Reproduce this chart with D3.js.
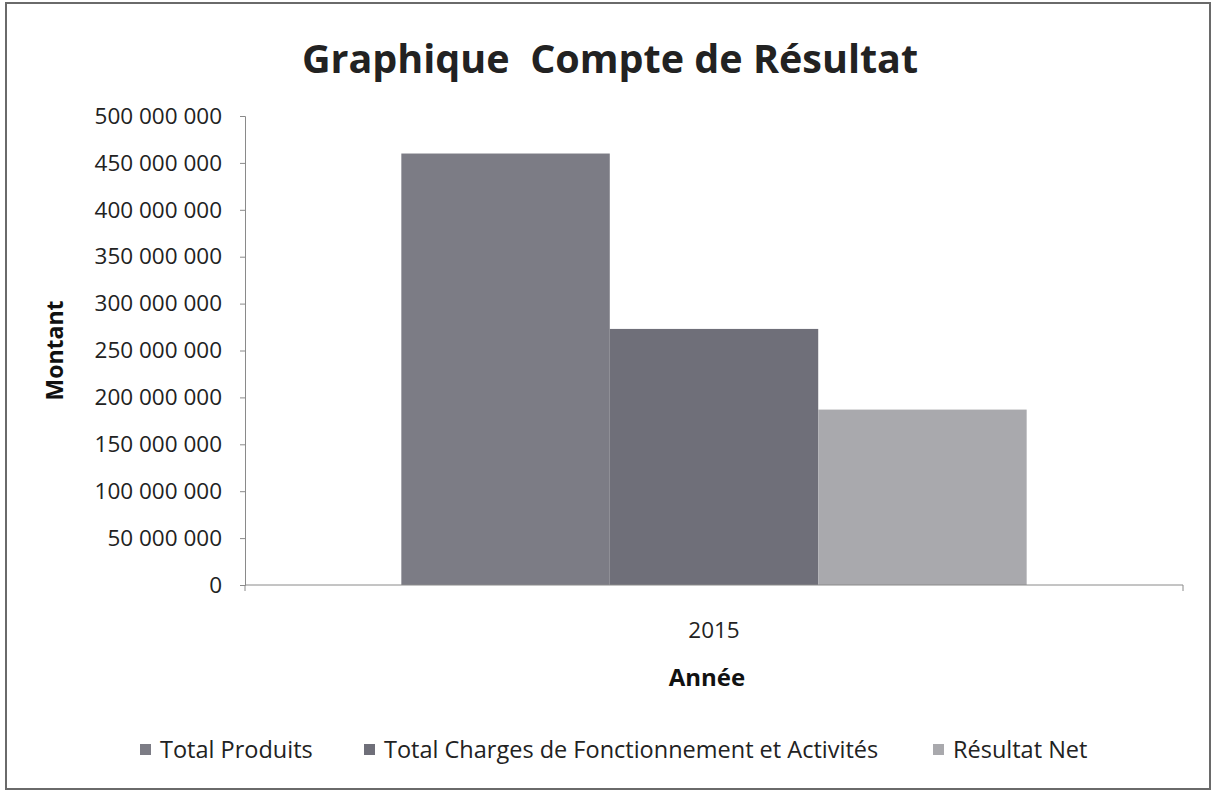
<!DOCTYPE html>
<html>
<head>
<meta charset="utf-8">
<script src="https://cdn.jsdelivr.net/npm/d3@7"></script>
<style>
  body { margin: 0; background: #fff; }
  svg { font-family: "Open Sans", sans-serif; }
</style>
</head>
<body>
<div id="chart"></div>
<script>
// data
var categories = ["2015"]
var series = ["Total Produits", "Total Charges de Fonctionnement et Activités", "Résultat Net"]
var values = [460000000, 273000000, 187000000]
var yTicks = [0, 50000000, 100000000, 150000000, 200000000, 250000000, 300000000, 350000000, 400000000, 450000000, 500000000]
var colors = ["#7c7c85", "#6f6f79", "#a9a9ad"]

var width = 1215, height = 792
var margin = {top: 116, right: 32, bottom: 207, left: 245}
var w = width - margin.left - margin.right,
    h = height - margin.top - margin.bottom

var fr = d3.formatLocale({decimal: ",", thousands: " ", grouping: [3], currency: ["", " €"]})
var fmt = fr.format(",")

var svg = d3.select("#chart")
  .append("svg")
    .attr("width", width)
    .attr("height", height)

// outer frame
svg.append("rect")
  .attr("x", 6).attr("y", 3)
  .attr("width", 1204).attr("height", 786)
  .attr("fill", "none")
  .attr("stroke", "#6a6a6a")
  .attr("stroke-width", 2)

svg.append("text")
  .attr("x", 610).attr("y", 73)
  .attr("text-anchor", "middle")
  .style("font-size", "39.5px")
  .style("font-weight", "bold")
  .style("fill", "#222")
  .attr("xml:space", "preserve")
  .text("Graphique  Compte de Résultat")

var g = svg.append("g")
  .attr("transform", "translate(" + margin.left + "," + margin.top + ")")

var x0 = d3.scaleBand()
  .domain(categories)
  .range([0, w])
  .paddingInner(0.2)
  .paddingOuter(0.2)

var x1 = d3.scaleBand()
  .domain(series)
  .range([0, x0.bandwidth()])
  .padding(0)

var y = d3.scaleLinear()
  .domain([0, 500000000])
  .range([h, 0])

// bars
categories.forEach(function(cat) {
  g.selectAll(null)
    .data(series)
    .enter()
    .append("rect")
      .attr("x", function(d) { return x0(cat) + x1(d) })
      .attr("y", function(d, i) { return y(values[i]) })
      .attr("width", x1.bandwidth())
      .attr("height", function(d, i) { return h - y(values[i]) })
      .attr("fill", function(d, i) { return colors[i] })
})

// y axis
var yAxis = g.append("g")
  .call(d3.axisLeft(y).tickValues(yTicks).tickFormat(fmt).tickSize(5).tickPadding(18))
yAxis.attr("font-family", "Open Sans").attr("font-size", 22.5)
yAxis.selectAll("text").style("fill", "#222")
yAxis.selectAll("line, path").attr("stroke", "#8a8a8a")

// x axis
var xAxis = g.append("g")
  .attr("transform", "translate(0," + h + ")")
xAxis.append("line")
  .attr("x1", 0).attr("x2", w)
  .attr("stroke", "#8a8a8a")
xAxis.selectAll("line.edge")
  .data([0, w])
  .enter()
  .append("line")
    .attr("class", "edge")
    .attr("x1", function(d) { return d }).attr("x2", function(d) { return d })
    .attr("y1", 0).attr("y2", 6)
    .attr("stroke", "#8a8a8a")
xAxis.selectAll("text.cat")
  .data(categories)
  .enter()
  .append("text")
    .attr("class", "cat")
    .attr("x", function(d) { return x0(d) + x0.bandwidth() / 2 })
    .attr("y", 53)
    .attr("text-anchor", "middle")
    .style("font-size", "22.5px")
    .style("fill", "#222")
    .text(function(d) { return d })

// axis titles
svg.append("text")
  .attr("transform", "translate(63," + (margin.top + h / 2) + ") rotate(-90)")
  .attr("text-anchor", "middle")
  .style("font-size", "23px")
  .style("font-weight", "bold")
  .style("fill", "#111")
  .text("Montant")

svg.append("text")
  .attr("x", 707).attr("y", 686)
  .attr("text-anchor", "middle")
  .style("font-size", "24px")
  .style("font-weight", "bold")
  .style("fill", "#111")
  .text("Année")

// legend
var legendX = [140, 364, 933]
var legend = svg.selectAll("g.leg")
  .data(series)
  .enter()
  .append("g")
    .attr("class", "leg")
    .attr("transform", function(d, i) { return "translate(" + legendX[i] + ",750)" })
legend.append("rect")
  .attr("x", 0).attr("y", -6)
  .attr("width", 11).attr("height", 11)
  .attr("fill", function(d, i) { return colors[i] })
legend.append("text")
  .attr("x", 20).attr("y", 8)
  .style("font-size", "23.5px")
  .style("fill", "#222")
  .text(function(d) { return d })
</script>
</body>
</html>
